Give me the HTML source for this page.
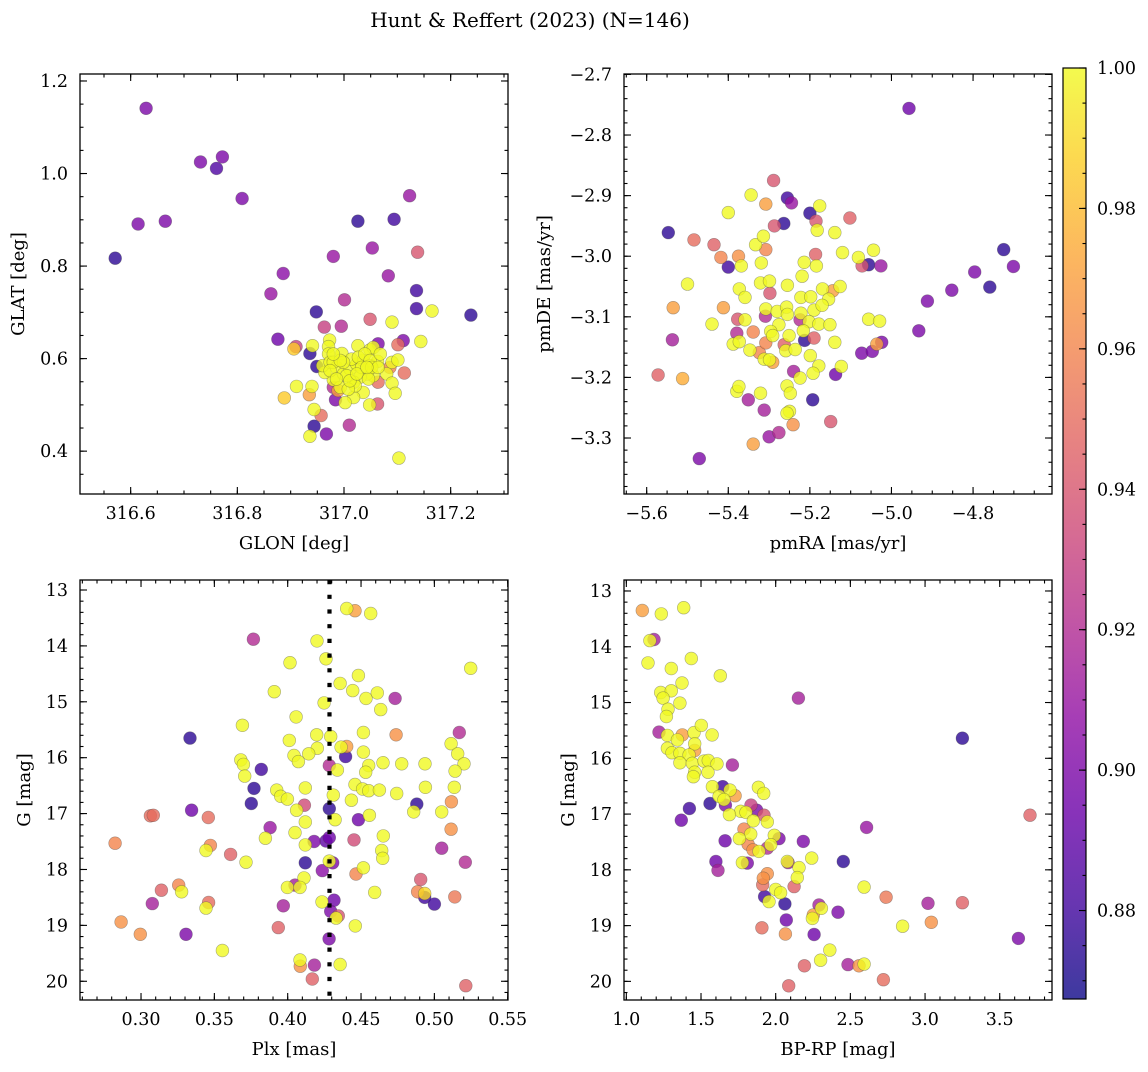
<!DOCTYPE html>
<html><head><meta charset="utf-8"><style>
html,body{margin:0;padding:0;background:#fff;}
svg text{font-family:"DejaVu Serif","Liberation Serif",serif;fill:#000;}
</style></head><body>
<svg id="fig" width="1148" height="1067" viewBox="0 0 1148 1067" xmlns="http://www.w3.org/2000/svg">
<defs>
<linearGradient id="plasma" x1="0" y1="1" x2="0" y2="0">
<stop offset="0" stop-color="#0d0887"/><stop offset="0.1" stop-color="#41049d"/><stop offset="0.2" stop-color="#6a00a8"/><stop offset="0.3" stop-color="#8f0da4"/><stop offset="0.4" stop-color="#b12a90"/><stop offset="0.5" stop-color="#cc4778"/><stop offset="0.6" stop-color="#e16462"/><stop offset="0.7" stop-color="#f2844b"/><stop offset="0.8" stop-color="#fca636"/><stop offset="0.9" stop-color="#fcce25"/><stop offset="1" stop-color="#f0f921"/>
</linearGradient>
</defs>
<text x="530" y="27" font-size="20" text-anchor="middle">Hunt &amp; Reffert (2023) (N=146)</text>
</svg>
<script>
// ---------- data ----------
const glon=[316.629,316.614,316.665,316.571,316.731,316.761,316.772,316.809,317.123,317.026,
317.094,317.053,316.980,317.138,316.886,317.083,316.863,317.136,317.001,317.136,
316.948,317.238,317.049,316.963,316.995,316.876,316.910,316.906,316.936,316.949,
317.064,317.111,317.101,317.113,317.086,317.064,316.888,316.935,316.957,316.984,
316.989,316.980,317.063,317.010,316.944,316.967,
317.165,317.090,316.941,317.144,316.911,316.940,316.944,317.048,316.936,317.103,
316.973,316.971,316.971,316.996,317.026,317.049,317.055,317.063,317.090,317.101,
317.080,317.090,317.096,317.036,317.018,317.002,316.980,316.964,316.960,316.974,
316.986,316.999,317.011,317.024,317.036,317.049,317.055,317.043,317.030,317.018,
317.005,316.993,317.014,317.027,317.039,317.049,316.980,316.999,317.033,317.021,
317.008,317.052,317.046,316.974,316.986,317.064,317.011,317.024,316.993,317.043,
317.068,316.980];
const glat=[1.141,0.891,0.897,0.817,1.025,1.011,1.036,0.946,0.952,0.897,
0.901,0.839,0.821,0.830,0.784,0.779,0.740,0.747,0.727,0.708,
0.701,0.694,0.685,0.668,0.670,0.642,0.626,0.621,0.611,0.583,
0.632,0.639,0.630,0.569,0.581,0.549,0.515,0.522,0.477,0.511,
0.531,0.538,0.502,0.456,0.454,0.437,
0.703,0.679,0.628,0.637,0.540,0.540,0.490,0.500,0.432,0.385,
0.640,0.626,0.610,0.611,0.628,0.619,0.624,0.594,0.592,0.597,
0.567,0.547,0.525,0.527,0.516,0.505,0.554,0.570,0.585,0.592,
0.581,0.567,0.578,0.588,0.596,0.585,0.563,0.567,0.560,0.549,
0.563,0.538,0.599,0.603,0.610,0.596,0.592,0.592,0.581,0.541,
0.534,0.581,0.556,0.574,0.556,0.581,0.552,0.567,0.596,0.581,
0.610,0.610];
const prob1=[.90,.90,.90,.875,.90,.885,.90,.90,.91,.875,
.88,.91,.91,.94,.905,.91,.91,.88,.92,.88,
.875,.875,.94,.93,.92,.895,.93,.985,.875,.875,
.90,.90,.95,.95,.96,.95,.985,.97,.95,.90,
.97,.92,.94,.92,.875,.90,
1,1,1,1,1,1,1,1,1,1,
1,1,1,1,1,1,1,1,1,1,
1,1,1,1,1,1,1,1,1,1,
1,1,1,1,1,1,1,1,1,1,
1,1,1,1,1,1,1,1,1,1,
1,1,1,1,1,1,1,1,1,1,
1,1];

const pmra=[-4.957,-5.547,-5.471,-5.289,-5.255,-5.245,-5.308,-5.200,-5.185,-5.264,
-5.287,-5.102,-5.484,-5.435,-5.418,-5.375,-5.400,-5.308,-5.186,-5.072,
-5.056,-5.026,-5.535,-5.412,-5.537,-5.572,-5.512,-5.298,-5.377,-5.379,
-5.339,-5.324,-5.308,-5.291,-5.309,-5.224,-5.144,-5.213,-5.190,-5.263,
-4.933,-4.912,-4.852,-4.796,-4.759,-4.725,-4.701,-5.073,-5.047,-5.024,
-5.036,-5.137,-5.240,-5.193,-5.149,-5.241,-5.276,-5.300,-5.339,-5.312,
-5.351,
-5.400,-5.344,-5.176,-5.182,-5.139,-5.368,-5.333,-5.314,-5.319,-5.184,
-5.214,-5.219,-5.255,-5.120,-5.081,-5.044,-5.500,-5.440,-5.373,-5.359,
-5.321,-5.299,-5.359,-5.388,-5.373,-5.347,-5.312,-5.299,-5.308,-5.280,
-5.257,-5.255,-5.222,-5.222,-5.198,-5.190,-5.169,-5.126,-5.154,-5.170,
-5.202,-5.178,-5.151,-5.216,-5.276,-5.296,-5.291,-5.251,-5.259,-5.236,
-5.199,-5.139,-5.056,-5.029,-5.123,-5.178,-5.192,-5.224,-5.256,-5.248,
-5.250,-5.256,-5.321,-5.379,-5.374];
const pmde=[-2.756,-2.961,-3.334,-2.875,-2.904,-2.912,-2.914,-2.929,-2.942,-2.946,
-2.950,-2.937,-2.973,-2.981,-3.002,-3.000,-3.018,-2.989,-2.997,-3.016,
-3.014,-3.016,-3.085,-3.085,-3.138,-3.196,-3.202,-3.061,-3.104,-3.127,
-3.125,-3.159,-3.143,-3.175,-3.099,-3.105,-3.057,-3.139,-3.135,-3.146,
-3.123,-3.074,-3.056,-3.026,-3.051,-2.989,-3.017,-3.160,-3.157,-3.142,
-3.145,-3.195,-3.190,-3.237,-3.273,-3.278,-3.291,-3.298,-3.310,-3.254,
-3.237,
-2.928,-2.899,-2.917,-2.957,-2.961,-3.016,-2.981,-2.967,-3.011,-3.016,
-3.010,-3.033,-3.048,-2.994,-3.002,-2.990,-3.046,-3.112,-3.054,-3.068,
-3.044,-3.041,-3.105,-3.145,-3.141,-3.155,-3.170,-3.171,-3.087,-3.091,
-3.084,-3.096,-3.094,-3.068,-3.067,-3.089,-3.054,-3.050,-3.071,-3.081,
-3.108,-3.112,-3.113,-3.123,-3.113,-3.124,-3.131,-3.131,-3.156,-3.154,
-3.164,-3.142,-3.104,-3.107,-3.182,-3.181,-3.193,-3.201,-3.214,-3.226,
-3.256,-3.259,-3.226,-3.223,-3.215];
const prob2=[.895,.875,.90,.94,.88,.91,.97,.875,.94,.875,
.94,.945,.95,.945,.96,.965,.88,.96,.945,.94,
.875,.91,.97,.97,.915,.945,.975,.94,.94,.92,
.96,.96,.96,.97,.92,.92,.97,.875,.945,.945,
.90,.90,.90,.90,.875,.875,.90,.90,.90,.90,
.97,.895,.915,.875,.94,.965,.92,.91,.97,.915,
.915,
1,1,1,1,1,1,1,1,1,1,
1,1,1,1,1,1,1,1,1,1,
1,1,1,1,1,1,1,1,1,1,
1,1,1,1,1,1,1,1,1,1,
1,1,1,1,1,1,1,1,1,1,
1,1,1,1,1,1,1,1,1,1,
1,1,1,1,1];

const plx=[0.4402,0.4459,0.4566,0.3766,0.4200,0.4261,0.4016,0.5248,0.4357,0.4482,
0.3909,0.4443,0.4534,0.4611,0.4634,0.4732,0.4248,0.4057,0.3691,0.3334,
0.4011,0.4198,0.4293,0.4516,0.4739,0.5170,0.5114,0.5159,0.5202,0.5141,
0.4202,0.4143,0.4043,0.4073,0.4364,0.4402,0.4395,0.4516,0.4552,0.4532,
0.4650,0.4777,0.4936,0.4284,0.4339,0.3680,0.3698,0.3707,0.3820,0.3770,
0.3752,0.3345,0.3925,0.3952,0.3998,0.4120,0.4114,0.4061,0.4311,0.4284,
0.4459,0.4511,0.4552,0.4625,0.4743,0.4434,0.4939,0.5136,0.5116,0.4880,
0.4859,0.5050,0.4557,0.4482,0.4323,0.4120,0.3880,0.4050,0.3848,0.4120,
0.4180,0.4261,0.4284,0.4452,0.4652,0.5114,0.5050,0.4641,0.4648,0.5211,
0.4120,0.4284,0.4307,0.4236,0.4516,0.4466,0.4111,0.4050,0.3998,0.4084,
0.4593,0.4907,0.4886,0.4934,0.4934,0.5000,0.5139,0.4316,0.4234,0.4293,
0.4345,0.4330,0.4461,0.3970,0.3936,0.4282,0.4084,0.4086,0.4182,0.4357,
0.4168,0.5214,0.3555,0.3307,0.2995,0.2864,0.3077,0.3139,0.3257,0.3277,
0.3461,0.3443,0.2823,0.3064,0.3084,0.3459,0.3473,0.3443,0.3611,0.3716];
const gmag3=[13.33,13.37,13.42,13.88,13.91,14.23,14.30,14.40,14.67,14.53,
14.82,14.80,14.94,14.84,15.14,14.94,15.02,15.27,15.42,15.65,
15.69,15.59,15.62,15.55,15.59,15.55,15.75,15.93,16.11,16.24,
15.83,15.93,15.96,16.07,15.81,15.80,15.98,15.90,16.14,16.26,
16.09,16.11,16.11,16.14,16.22,16.04,16.12,16.33,16.21,16.55,
16.82,16.94,16.58,16.69,16.74,16.54,16.85,16.94,16.67,16.91,
16.48,16.56,16.59,16.58,16.64,16.76,16.53,16.53,16.79,16.83,
16.97,16.97,17.03,17.11,17.11,17.15,17.25,17.34,17.44,17.56,
17.50,17.49,17.43,17.47,17.40,17.28,17.62,17.66,17.80,17.87,
17.88,17.85,17.88,18.02,17.97,18.08,18.15,18.28,18.32,18.32,
18.41,18.18,18.40,18.43,18.50,18.62,18.49,18.55,18.58,18.75,
18.83,18.87,19.01,18.65,19.04,19.24,19.62,19.73,19.71,19.70,
19.96,20.08,19.45,19.16,19.16,18.94,18.61,18.37,18.28,18.40,
18.59,18.69,17.53,17.04,17.03,17.07,17.57,17.66,17.73,17.87];
const prob3=[1,.97,1,.92,1,1,1,1,1,1,
1,1,1,1,1,.915,1,1,1,.875,
1,1,1,1,.965,.92,1,1,1,1,
1,1,1,1,1,.97,.88,1,1,1,
1,1,1,.92,1,1,1,1,.88,.875,
.875,.895,1,1,1,1,.935,1,1,.875,
1,1,1,1,1,1,1,1,.965,.875,
1,1,1,.895,1,1,.91,1,1,1,
.90,.89,.895,.935,1,.965,.915,1,1,.92,
.875,1,.90,.905,1,.96,1,.915,1,1,
1,.94,.96,.99,.88,.88,.955,.895,1,.90,
.94,1,1,.915,.945,.90,1,.965,.915,1,
.945,.945,1,.90,.965,.965,.915,.945,.96,1,
.95,1,.96,.95,.95,.95,.96,1,.945,1];

const bprp=[1.107,1.234,1.384,1.185,1.158,1.145,1.301,1.435,1.629,1.373,
1.230,1.301,1.246,1.359,1.279,1.268,2.152,3.250,1.219,1.275,
1.375,1.342,1.453,1.502,1.574,1.275,1.306,1.359,1.458,1.458,
1.420,1.359,1.442,1.520,1.549,1.607,1.458,1.449,1.547,1.710,
1.576,1.645,1.694,1.728,1.621,1.654,1.663,1.560,1.422,1.368,
1.884,1.920,1.835,1.873,1.766,1.801,1.690,1.922,1.850,1.944,
1.788,1.833,1.757,1.991,2.022,2.185,2.609,3.703,1.661,1.815,
1.848,1.888,1.967,1.944,1.600,1.614,1.810,1.777,2.078,2.083,
2.241,2.453,1.944,1.917,1.913,2.156,2.145,2.123,2.000,2.033,
1.926,1.955,2.062,2.071,2.290,2.306,2.252,2.246,2.417,2.257,
2.065,1.908,2.592,2.739,3.020,3.250,3.042,2.850,3.625,2.362,
2.301,2.192,2.484,2.558,2.592,2.721,2.087];
const gmag4=[13.35,13.41,13.30,13.87,13.89,14.29,14.39,14.21,14.52,14.65,
14.82,14.79,14.92,15.01,15.12,15.25,14.92,15.64,15.53,15.59,
15.58,15.67,15.54,15.41,15.58,15.82,15.90,15.91,15.74,15.86,
15.94,16.08,16.09,16.05,16.04,16.10,16.25,16.33,16.25,16.12,
16.51,16.51,16.57,16.67,16.68,16.74,16.84,16.81,16.90,17.11,
16.52,16.63,16.84,16.93,16.95,16.97,17.01,17.02,17.12,17.14,
17.27,17.36,17.44,17.38,17.44,17.49,17.24,17.02,17.48,17.54,
17.64,17.67,17.55,17.61,17.85,18.01,17.88,17.87,17.85,17.87,
17.79,17.85,18.07,18.15,18.27,17.96,18.14,18.30,18.35,18.41,
18.48,18.57,18.61,18.90,18.63,18.69,18.81,18.87,18.76,19.16,
19.15,19.04,18.31,18.49,18.60,18.59,18.94,19.01,19.23,19.44,
19.62,19.72,19.70,19.72,19.69,19.97,20.08];
const prob4=[.97,1,1,.915,1,1,1,1,1,1,
1,1,1,1,1,1,.915,.875,.915,1,
.97,1,1,1,1,1,1,1,1,.97,
1,1,1,1,1,1,1,1,1,.915,
1,.88,1,.97,1,1,.90,.875,.88,.895,
1,1,.93,.90,1,1,1,.94,1,1,
.96,1,1,1,.90,.90,.91,.945,.895,.96,
.965,1,1,.92,.895,.915,.90,1,1,.915,
1,.875,.965,.965,.95,1,1,.945,1,1,
.88,1,.875,.895,.915,1,.97,1,.90,.895,
.965,.95,1,.955,.915,.945,.965,1,.90,1,
1,.945,.915,.965,1,.95,.945];

const plxLine=[0.4285];
const p1xTicks=[316.6,316.8,317.0,317.2], p1yTicks=[0.4,0.6,0.8,1.0,1.2];
const p2xTicks=[-5.6,-5.4,-5.2,-5.0,-4.8], p2yTicks=[-2.7,-2.8,-2.9,-3.0,-3.1,-3.2,-3.3];
const p3xTicks=[0.30,0.35,0.40,0.45,0.50,0.55], p3yTicks=[13,14,15,16,17,18,19,20];
const p4xTicks=[1.0,1.5,2.0,2.5,3.0,3.5], p4yTicks=[13,14,15,16,17,18,19,20];
const cbTicks=[0.88,0.90,0.92,0.94,0.96,0.98,1.00];

// ---------- rendering ----------
const NS="http://www.w3.org/2000/svg";
const svg=document.getElementById('fig');
function mk(tag,attrs,parent){const e=document.createElementNS(NS,tag);for(const k in attrs)e.setAttribute(k,attrs[k]);(parent||svg).appendChild(e);return e;}
const stops=[[13,8,135],[65,4,157],[106,0,168],[143,13,164],[177,42,144],[204,71,120],[225,100,98],[242,132,75],[252,166,54],[252,206,37],[240,249,33]];
const VMIN=0.8674,VMAX=1.0;
function plasma(v){let t=(v-VMIN)/(VMAX-VMIN);t=Math.max(0,Math.min(1,t))*10;const i=Math.min(9,Math.floor(t)),f=t-i;const a=stops[i],b=stops[i+1];return 'rgb('+[0,1,2].map(k=>Math.round(a[k]+(b[k]-a[k])*f)).join(',')+')';}
function lin(d0,d1,p0,p1){return v=>p0+(v-d0)/(d1-d0)*(p1-p0);}
function fmt(v,dec){return v.toFixed(dec).replace('-','\u2212');}

function panel(cfg){
  const g=mk('g',{});
  
  
  const sx=lin(cfg.xd[0],cfg.xd[1],cfg.L,cfg.R), sy=lin(cfg.yd[0],cfg.yd[1],cfg.T,cfg.B);
  // points sorted by prob
  const idx=cfg.xs.map((_,i)=>i).sort((a,b)=>cfg.cs[a]-cfg.cs[b]);
  const pg=mk('g',{},g);
  
  
  idx.forEach(i=>{
    const c=mk('circle',{cx:sx(cfg.xs[i]).toFixed(1),cy:sy(cfg.ys[i]).toFixed(1),r:6.4,fill:plasma(cfg.cs[i]),'fill-opacity':0.8,stroke:'rgba(70,70,70,0.45)','stroke-width':0.6},pg);
    
    
  });
  if(cfg.vline){cfg.vline.forEach(v=>{const l=mk('line',{x1:sx(v),x2:sx(v),y1:cfg.T,y2:cfg.B,stroke:'#000','stroke-width':4.2,'stroke-dasharray':'4.2 10.5'},g);
    
    });}
  // frame
  const fr=mk('rect',{x:cfg.L,y:cfg.T,width:cfg.R-cfg.L,height:cfg.B-cfg.T,fill:'none',stroke:'#000','stroke-width':1.3},g);
  
  
  const tk=mk('g',{stroke:'#000','stroke-width':1.1},g);
  
  
  // minor ticks
  const mx0=Math.ceil(Math.min(...cfg.xd)/cfg.xm-1e-6), mx1=Math.floor(Math.max(...cfg.xd)/cfg.xm+1e-6);
  for(let k=mx0;k<=mx1;k++){const x=sx(k*cfg.xm);mk('line',{x1:x,x2:x,y1:cfg.B,y2:cfg.B-3.5},tk);mk('line',{x1:x,x2:x,y1:cfg.T,y2:cfg.T+3.5},tk);}
  const my0=Math.ceil(Math.min(...cfg.yd)/cfg.ym-1e-6), my1=Math.floor(Math.max(...cfg.yd)/cfg.ym+1e-6);
  for(let k=my0;k<=my1;k++){const y=sy(k*cfg.ym);mk('line',{x1:cfg.L,x2:cfg.L+3.5,y1:y,y2:y},tk);mk('line',{x1:cfg.R,x2:cfg.R-3.5,y1:y,y2:y},tk);}
  cfg.xt.forEach(v=>{const x=sx(v);mk('line',{x1:x,x2:x,y1:cfg.B,y2:cfg.B-7},tk);mk('line',{x1:x,x2:x,y1:cfg.T,y2:cfg.T+7},tk);
    const t=mk('text',{x:x,y:cfg.B+25,'font-size':17.5,'text-anchor':'middle'},g);t.textContent=fmt(v,cfg.xdec);
    
    });
  cfg.yt.forEach(v=>{const y=sy(v);mk('line',{x1:cfg.L,x2:cfg.L+7,y1:y,y2:y},tk);mk('line',{x1:cfg.R,x2:cfg.R-7,y1:y,y2:y},tk);
    const t=mk('text',{x:cfg.L-12,y:y+6,'font-size':17.5,'text-anchor':'end'},g);t.textContent=fmt(v,cfg.ydec);
    
    });
  const xl=mk('text',{x:(cfg.L+cfg.R)/2,y:cfg.B+55,'font-size':18,'text-anchor':'middle'},g);xl.textContent=cfg.xlabel;
  
  
  const yx=cfg.L-cfg.ylOff, yy=(cfg.T+cfg.B)/2;
  const yl=mk('text',{x:yx,y:yy,'font-size':18,'text-anchor':'middle',transform:'rotate(-90 '+yx+' '+yy+')'},g);yl.textContent=cfg.ylabel;
  
  
}
panel({name:'glon-glat-panel',L:80,R:508,T:74,B:494,xd:[316.505,317.3075],yd:[1.2151,0.3074],xs:glon,ys:glat,cs:prob1,xt:p1xTicks,yt:p1yTicks,xm:0.05,ym:0.05,xdec:1,ydec:1,xlabel:'GLON [deg]',ylabel:'GLAT [deg]',ylOff:56});
panel({name:'proper-motion-panel',L:624,R:1052,T:74,B:494,xd:[-5.6556,-4.6065],yd:[-2.6993,-3.3924],xs:pmra,ys:pmde,cs:prob2,xt:p2xTicks,yt:p2yTicks,xm:0.05,ym:0.02,xdec:1,ydec:1,xlabel:'pmRA [mas/yr]',ylabel:'pmDE [mas/yr]',ylOff:74});
panel({name:'parallax-mag-panel',L:80,R:508,T:580,B:1000,xd:[0.2584,0.5502],yd:[12.821,20.335],xs:plx,ys:gmag3,cs:prob3,xt:p3xTicks,yt:p3yTicks,xm:0.01,ym:0.2,xdec:2,ydec:0,xlabel:'Plx [mas]',ylabel:'G [mag]',ylOff:50,vline:plxLine});
panel({name:'color-magnitude-panel',L:624,R:1052,T:580,B:1000,xd:[0.9844,3.850],yd:[12.803,20.334],xs:bprp,ys:gmag4,cs:prob4,xt:p4xTicks,yt:p4yTicks,xm:0.1,ym:0.2,xdec:1,ydec:0,xlabel:'BP-RP [mag]',ylabel:'G [mag]',ylOff:50});

// colorbar
const cb=mk('g',{});


const CT=68,CB=999,CL=1063,CR=1086;
const cy=lin(VMIN,VMAX,CB,CT);
mk('rect',{x:CL,y:CT,width:CR-CL,height:CB-CT,fill:'url(#plasma)','fill-opacity':0.8},cb);
mk('rect',{x:CL,y:CT,width:CR-CL,height:CB-CT,fill:'none',stroke:'#000','stroke-width':1.2},cb);
for(let k=Math.ceil(VMIN/0.005);k<=Math.floor(VMAX/0.005+1e-6);k++){const y=cy(k*0.005);mk('line',{x1:CR,x2:CR-3.5,y1:y,y2:y,stroke:'#000','stroke-width':1.1},cb);}
cbTicks.forEach(v=>{const y=cy(v);mk('line',{x1:CR,x2:CR-7,y1:y,y2:y,stroke:'#000','stroke-width':1.1},cb);
  const t=mk('text',{x:CR+11,y:y+6,'font-size':17.5},cb);t.textContent=v.toFixed(2);
  
  });
</script>
</body></html>
